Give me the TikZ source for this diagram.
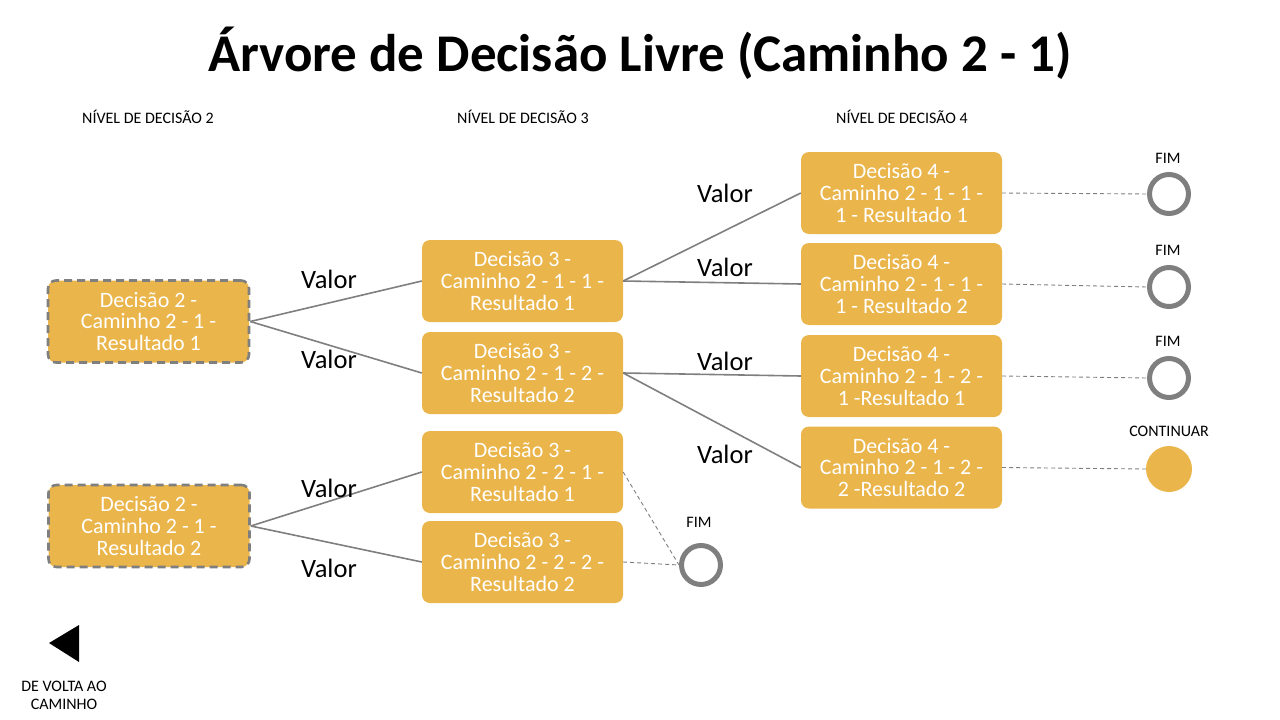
\documentclass[tikz,border=0pt]{standalone}
\usepackage{fontspec}
\setmainfont{Carlito}
\begin{document}
\begin{tikzpicture}[x=1pt,y=-1pt,
  box/.style={fill=gold, rounded corners=8pt, minimum width=201pt, minimum height=82pt,
    text=white, align=center, font=\fontsize{22}{21.8}\selectfont, inner sep=0pt},
  dbox/.style={box, draw=edgegray, line width=2.6pt, dash pattern=on 8pt off 5pt},
  edge/.style={draw=edgegray, line width=1.6pt},
  dline/.style={draw=edgegray, line width=0.9pt, dash pattern=on 4pt off 3pt},
  val/.style={font=\fontsize{26.5}{28}\selectfont, text=black},
  small/.style={font=\fontsize{16}{18}\selectfont, text=black, align=center},
  fim/.style={circle, draw=edgegray, line width=5pt, minimum size=39pt, inner sep=0pt},
  cont/.style={circle, fill=gold, minimum size=46pt, inner sep=0pt}
]
\definecolor{gold}{RGB}{234,181,74}
\definecolor{edgegray}{RGB}{127,127,127}
\useasboundingbox (0,0) rectangle (1280,720);

\node[font=\bfseries\fontsize{53}{60}\selectfont] (title) at (640,53) {Árvore de Decisão Livre (Caminho 2 - 1)};

\node[small] (lv2) at (148,117) {NÍVEL DE DECISÃO 2};
\node[small] (lv3) at (523,117) {NÍVEL DE DECISÃO 3};
\node[small] (lv4) at (902,117) {NÍVEL DE DECISÃO 4};

% level 2
\node[dbox] (a1) at (148.5,321.5) {Decisão 2 -\\Caminho 2 - 1 -\\Resultado 1};
\node[dbox] (a2) at (149,526) {Decisão 2 -\\Caminho 2 - 1 -\\Resultado 2};

% level 3
\node[box] (b1) at (522.5,281) {Decisão 3 -\\Caminho 2 - 1 - 1 -\\Resultado 1};
\node[box] (b2) at (522.5,373) {Decisão 3 -\\Caminho 2 - 1 - 2 -\\Resultado 2};
\node[box] (b3) at (522.5,472) {Decisão 3 -\\Caminho 2 - 2 - 1 -\\Resultado 1};
\node[box] (b4) at (522.5,562) {Decisão 3 -\\Caminho 2 - 2 - 2 -\\Resultado 2};

% level 4
\node[box] (c1) at (901.5,193) {Decisão 4 -\\Caminho 2 - 1 - 1 -\\1 - Resultado 1};
\node[box] (c2) at (901.5,284) {Decisão 4 -\\Caminho 2 - 1 - 1 -\\1 - Resultado 2};
\node[box] (c3) at (901.5,376) {Decisão 4 -\\Caminho 2 - 1 - 2 -\\1 -Resultado 1};
\node[box] (c4) at (901.5,467.5) {Decisão 4 -\\Caminho 2 - 1 - 2 -\\2 -Resultado 2};

% end circles
\node[fim] (e1) at (1169,194) {};
\node[fim] (e2) at (1169,287) {};
\node[fim] (e3) at (1169,378) {};
\node[cont] (e4) at (1169,469) {};
\node[fim] (e5) at (701,565) {};

\node[small] (f1) at (1168,158) {FIM};
\node[small] (f2) at (1168,250) {FIM};
\node[small] (f3) at (1168,341) {FIM};
\node[small] (f4) at (1169,431) {CONTINUAR};
\node[small] (f5) at (699,522) {FIM};

% solid edges
\draw[edge] (a1.east) -- (b1.west);
\draw[edge] (a1.east) -- (b2.west);
\draw[edge] (a2.east) -- (b3.west);
\draw[edge] (a2.east) -- (b4.west);
\draw[edge] (b1.east) -- (c1.west);
\draw[edge] (b1.east) -- (c2.west);
\draw[edge] (b2.east) -- (c3.west);
\draw[edge] (b2.east) -- (c4.west);

% dashed edges
\draw[dline] (c1.east) -- (e1.west);
\draw[dline] (c2.east) -- (e2.west);
\draw[dline] (c3.east) -- (e3.west);
\draw[dline] (c4.east) -- (e4.west);
\draw[dline] (b3.east) -- (e5.west);
\draw[dline] (b4.east) -- (e5.west);

% Valor labels
\node[val] (v1) at (329,279) {Valor};
\node[val] (v2) at (329,359) {Valor};
\node[val] (v3) at (329,488) {Valor};
\node[val] (v4) at (329,568) {Valor};
\node[val] (v5) at (725,193) {Valor};
\node[val] (v6) at (725,267) {Valor};
\node[val] (v7) at (725,361) {Valor};
\node[val] (v8) at (725,454) {Valor};

% back button
\fill[black] (49,643) -- (79,625) -- (79,662) -- cycle;
\node[small] (back) at (64,695) {DE VOLTA AO\\CAMINHO};
\end{tikzpicture}
\end{document}
